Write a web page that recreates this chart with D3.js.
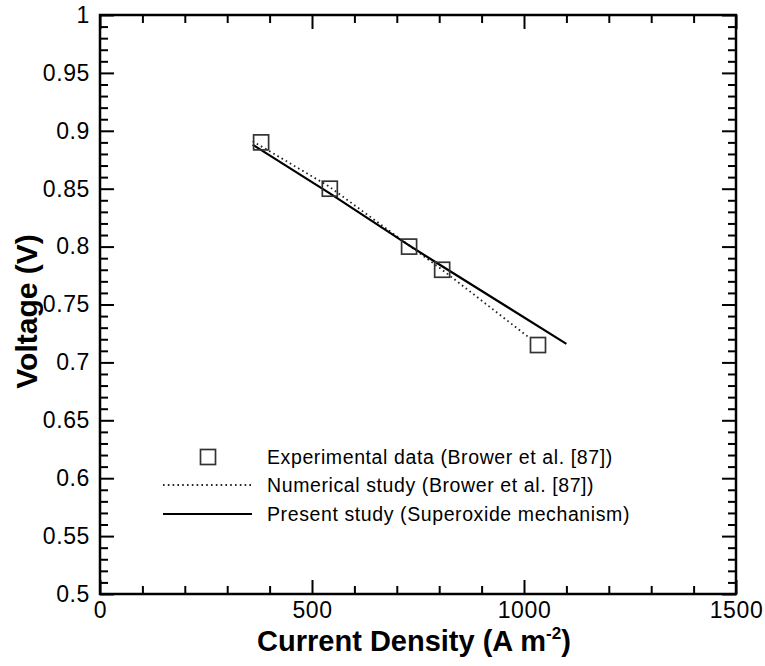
<!DOCTYPE html>
<html><head><meta charset="utf-8">
<script src="https://cdn.jsdelivr.net/npm/d3@7"></script>
<style>body{margin:0;background:#fff}svg{display:block}text{font-family:"Liberation Sans",Arial,sans-serif;fill:#000}</style>
</head><body><svg id="c" width="765" height="666"></svg>
<script>
const expX = [380, 542, 729, 807, 1033];
const expY = [0.890, 0.850, 0.800, 0.780, 0.715];
const numX = [360, 540, 729, 807, 1010];
const numY = [0.891, 0.852, 0.801, 0.780, 0.722];
const presX = [360, 542, 729, 807, 1100];
const presY = [0.888, 0.846, 0.801, 0.783, 0.716];
const xTicks = [0, 500, 1000, 1500];
const yTicks = [0.5, 0.55, 0.6, 0.65, 0.7, 0.75, 0.8, 0.85, 0.9, 0.95, 1];
const legendLabels = ["Experimental data (Brower et al. [87])", "Numerical study (Brower et al. [87])", "Present study (Superoxide mechanism)"];

const svg = d3.select("#c");
const L = 100, R = 736, T = 15, B = 594;
const x = d3.scaleLinear().domain([0, 1500]).range([L, R]);
const y = d3.scaleLinear().domain([0.5, 1]).range([B, T]);
const xMinor = d3.range(0, 1501, 100).filter(v => v % 500 !== 0);
const yMinor = d3.range(50, 101, 1).map(v => v / 100).filter(v => Math.round(v * 100) % 5 !== 0);
const MJ = 14, MN = 8;
const tickStyle = s => s.attr("stroke", "#000").attr("stroke-width", 2);

const ax = svg.append("g");
ax.append("g").attr("transform", `translate(0,${B})`)
  .call(d3.axisBottom(x).tickValues(xTicks).tickSize(0).tickPadding(7.5).tickFormat(d3.format("d")))
  .call(g => { g.select(".domain").remove(); g.selectAll("text").attr("font-size", 23).attr("letter-spacing", 0.6).attr("dy", "0.71em"); });
ax.append("g").attr("transform", `translate(0,${B})`)
  .call(d3.axisTop(x).tickValues(xTicks).tickSize(MJ).tickFormat(""))
  .call(g => { g.select(".domain").remove(); g.selectAll("line").call(tickStyle); });
ax.append("g").attr("transform", `translate(0,${B})`)
  .call(d3.axisTop(x).tickValues(xMinor).tickSize(MN).tickFormat(""))
  .call(g => { g.select(".domain").remove(); g.selectAll("line").call(tickStyle); });
ax.append("g").attr("transform", `translate(0,${T})`)
  .call(d3.axisBottom(x).tickValues(xTicks).tickSize(MJ).tickFormat(""))
  .call(g => { g.select(".domain").remove(); g.selectAll("line").call(tickStyle); });
ax.append("g").attr("transform", `translate(0,${T})`)
  .call(d3.axisBottom(x).tickValues(xMinor).tickSize(MN).tickFormat(""))
  .call(g => { g.select(".domain").remove(); g.selectAll("line").call(tickStyle); });
ax.append("g").attr("transform", `translate(${L},0)`)
  .call(d3.axisLeft(y).tickValues(yTicks).tickSize(0).tickPadding(10).tickFormat(d => d === 1 ? "1" : d === 0.5 ? "0.5" : d3.format("")(d)))
  .call(g => { g.select(".domain").remove(); g.selectAll("text").attr("font-size", 23).attr("letter-spacing", 0.6); });
ax.append("g").attr("transform", `translate(${L},0)`)
  .call(d3.axisRight(y).tickValues(yTicks).tickSize(MJ).tickFormat(""))
  .call(g => { g.select(".domain").remove(); g.selectAll("line").call(tickStyle); });
ax.append("g").attr("transform", `translate(${L},0)`)
  .call(d3.axisRight(y).tickValues(yMinor).tickSize(MN).tickFormat(""))
  .call(g => { g.select(".domain").remove(); g.selectAll("line").call(tickStyle); });
ax.append("g").attr("transform", `translate(${R},0)`)
  .call(d3.axisLeft(y).tickValues(yTicks).tickSize(MJ).tickFormat(""))
  .call(g => { g.select(".domain").remove(); g.selectAll("line").call(tickStyle); });
ax.append("g").attr("transform", `translate(${R},0)`)
  .call(d3.axisLeft(y).tickValues(yMinor).tickSize(MN).tickFormat(""))
  .call(g => { g.select(".domain").remove(); g.selectAll("line").call(tickStyle); });
svg.append("rect").attr("x", L).attr("y", T).attr("width", R - L).attr("height", B - T)
  .attr("fill", "none").attr("stroke", "#000").attr("stroke-width", 2.5);

svg.append("text").attr("x", (L + R) / 2 - 4).attr("y", 651).attr("text-anchor", "middle")
  .attr("font-size", 29).attr("font-weight", "bold")
  .html('Current Density (A m<tspan dy="-12" font-size="17">-2</tspan><tspan dy="12">)</tspan>');
svg.append("text").attr("transform", `translate(37,${(T + B) / 2 + 7}) rotate(-90)`).attr("text-anchor", "middle")
  .attr("font-size", 30).attr("font-weight", "bold").text("Voltage (V)");

const mk = (xs, ys) => d3.line().x((d, i) => x(xs[i])).y((d, i) => y(ys[i]))(xs);
svg.append("path").attr("d", mk(numX, numY)).attr("fill", "none").attr("stroke", "#222")
  .attr("stroke-width", 1.8).attr("stroke-dasharray", "1.6,3.2");
svg.append("path").attr("d", mk(presX, presY)).attr("fill", "none").attr("stroke", "#000").attr("stroke-width", 2.2);
const S = 15;
svg.append("g").selectAll("rect").data(expX).join("rect")
  .attr("x", (d, i) => x(d) - S / 2).attr("y", (d, i) => y(expY[i]) - S / 2)
  .attr("width", S).attr("height", S).attr("fill", "none").attr("stroke", "#333").attr("stroke-width", 1.7);

const lg = svg.append("g");
const rowY = [457, 485, 514];
lg.append("rect").attr("x", 208 - S / 2).attr("y", rowY[0] - S / 2).attr("width", S).attr("height", S)
  .attr("fill", "none").attr("stroke", "#333").attr("stroke-width", 1.7);
lg.append("line").attr("x1", 163).attr("x2", 252).attr("y1", rowY[1]).attr("y2", rowY[1])
  .attr("stroke", "#222").attr("stroke-width", 1.8).attr("stroke-dasharray", "1.6,3.2");
lg.append("line").attr("x1", 163).attr("x2", 252).attr("y1", rowY[2]).attr("y2", rowY[2])
  .attr("stroke", "#000").attr("stroke-width", 2.2);
lg.selectAll("text").data(legendLabels).join("text")
  .attr("x", 267).attr("y", (d, i) => rowY[i] + 7).attr("font-size", 19.5).attr("letter-spacing", 0.6).text(d => d);
</script></body></html>
